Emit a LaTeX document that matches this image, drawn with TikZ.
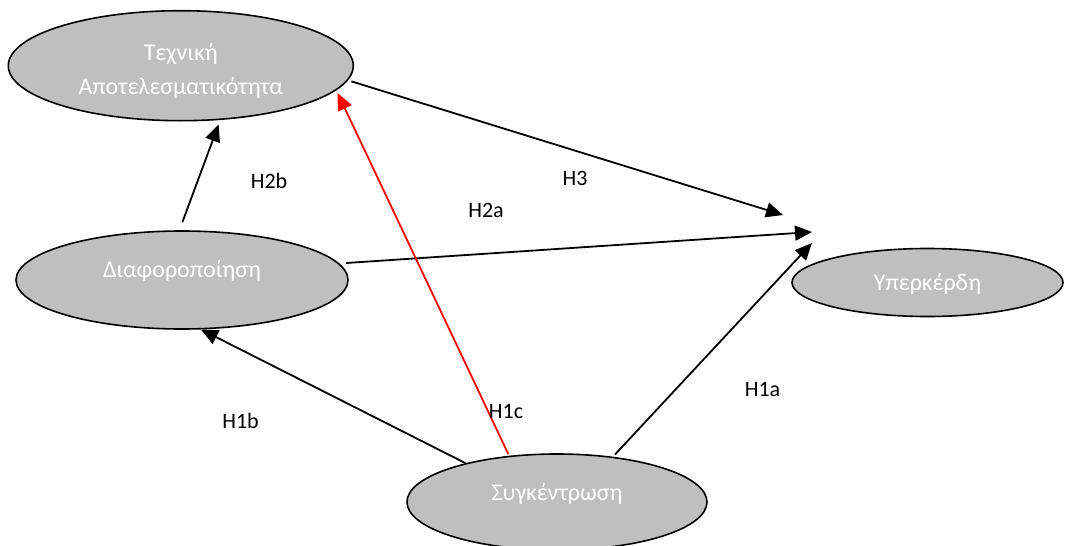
\documentclass[tikz,border=0pt]{standalone}
\usepackage{fontspec}
\setmainfont{Carlito}
\usetikzlibrary{shapes.geometric,arrows.meta}
\definecolor{silver}{HTML}{BFBFBF}
\pgfdeclarelayer{background}
\pgfsetlayers{background,main}
\begin{document}
\begin{tikzpicture}[x=1pt,y=-1pt,
  var/.style={ellipse,draw=black,line width=1.6pt,fill=silver,text=white,inner sep=0pt,
    font=\fontsize{24}{34}\selectfont,align=center},
  arr/.style={line width=1.8pt,-{Triangle[length=17pt,width=15pt]}},
  lbl/.style={font=\fontsize{22}{26}\selectfont,text=black,inner sep=0pt}]
\useasboundingbox (0,0) rectangle (1071,546);
% variables
\node[var,minimum width=345pt,minimum height=110pt] (tech) at (180.8,65.7)
  {\raisebox{-5pt}[\height][\depth]{\begin{tabular}{@{}c@{}}Τεχνική\\Αποτελεσματικότητα\end{tabular}}};
\node[var,minimum width=332pt,minimum height=98pt] (diaf) at (182,280) {\raisebox{9pt}[\height][\depth]{Διαφοροποίηση}};
\node[var,minimum width=271pt,minimum height=68pt] (yper) at (927.5,282.5) {\raisebox{-1pt}[\height][\depth]{Υπερκέρδη}};
\node[var,minimum width=300pt,minimum height=96pt] (sygk) at (557,502) {\raisebox{8pt}[\height][\depth]{Συγκέντρωση}};
% free arrow ends near Yperkerdi
\coordinate (t3) at (783,215);
\coordinate (t2a) at (812,232);
\coordinate (t1a) at (812,243);
% connectors
\begin{pgfonlayer}{background}
\draw[arr,shorten <=8.5pt,shorten >=4.7pt] (diaf.93.3) -- (tech.-54.3);
\draw[arr,shorten <=3.5pt] (tech.-5.9) -- (t3);
\draw[arr,shorten <=6.7pt] (diaf.6.6) -- (t2a);
\draw[arr,shorten <=3.1pt] (sygk.39.5) -- (t1a);
\draw[arr] (sygk.157.6) -- (diaf.-69.8);
\draw[arr,red,shorten <=1.7pt,shorten >=3pt] (sygk.136.5) -- (tech.-9.9);
\end{pgfonlayer}
% labels
\node[lbl] (l2b) at (269,180.5) {H2b};
\node[lbl] (l3) at (575,178) {H3};
\node[lbl] (l2a) at (486,210) {H2a};
\node[lbl] (l1a) at (762.5,389) {H1a};
\node[lbl] (l1b) at (240.5,420.5) {H1b};
\node[lbl] (l1c) at (506,411) {H1c};
\end{tikzpicture}
\end{document}
